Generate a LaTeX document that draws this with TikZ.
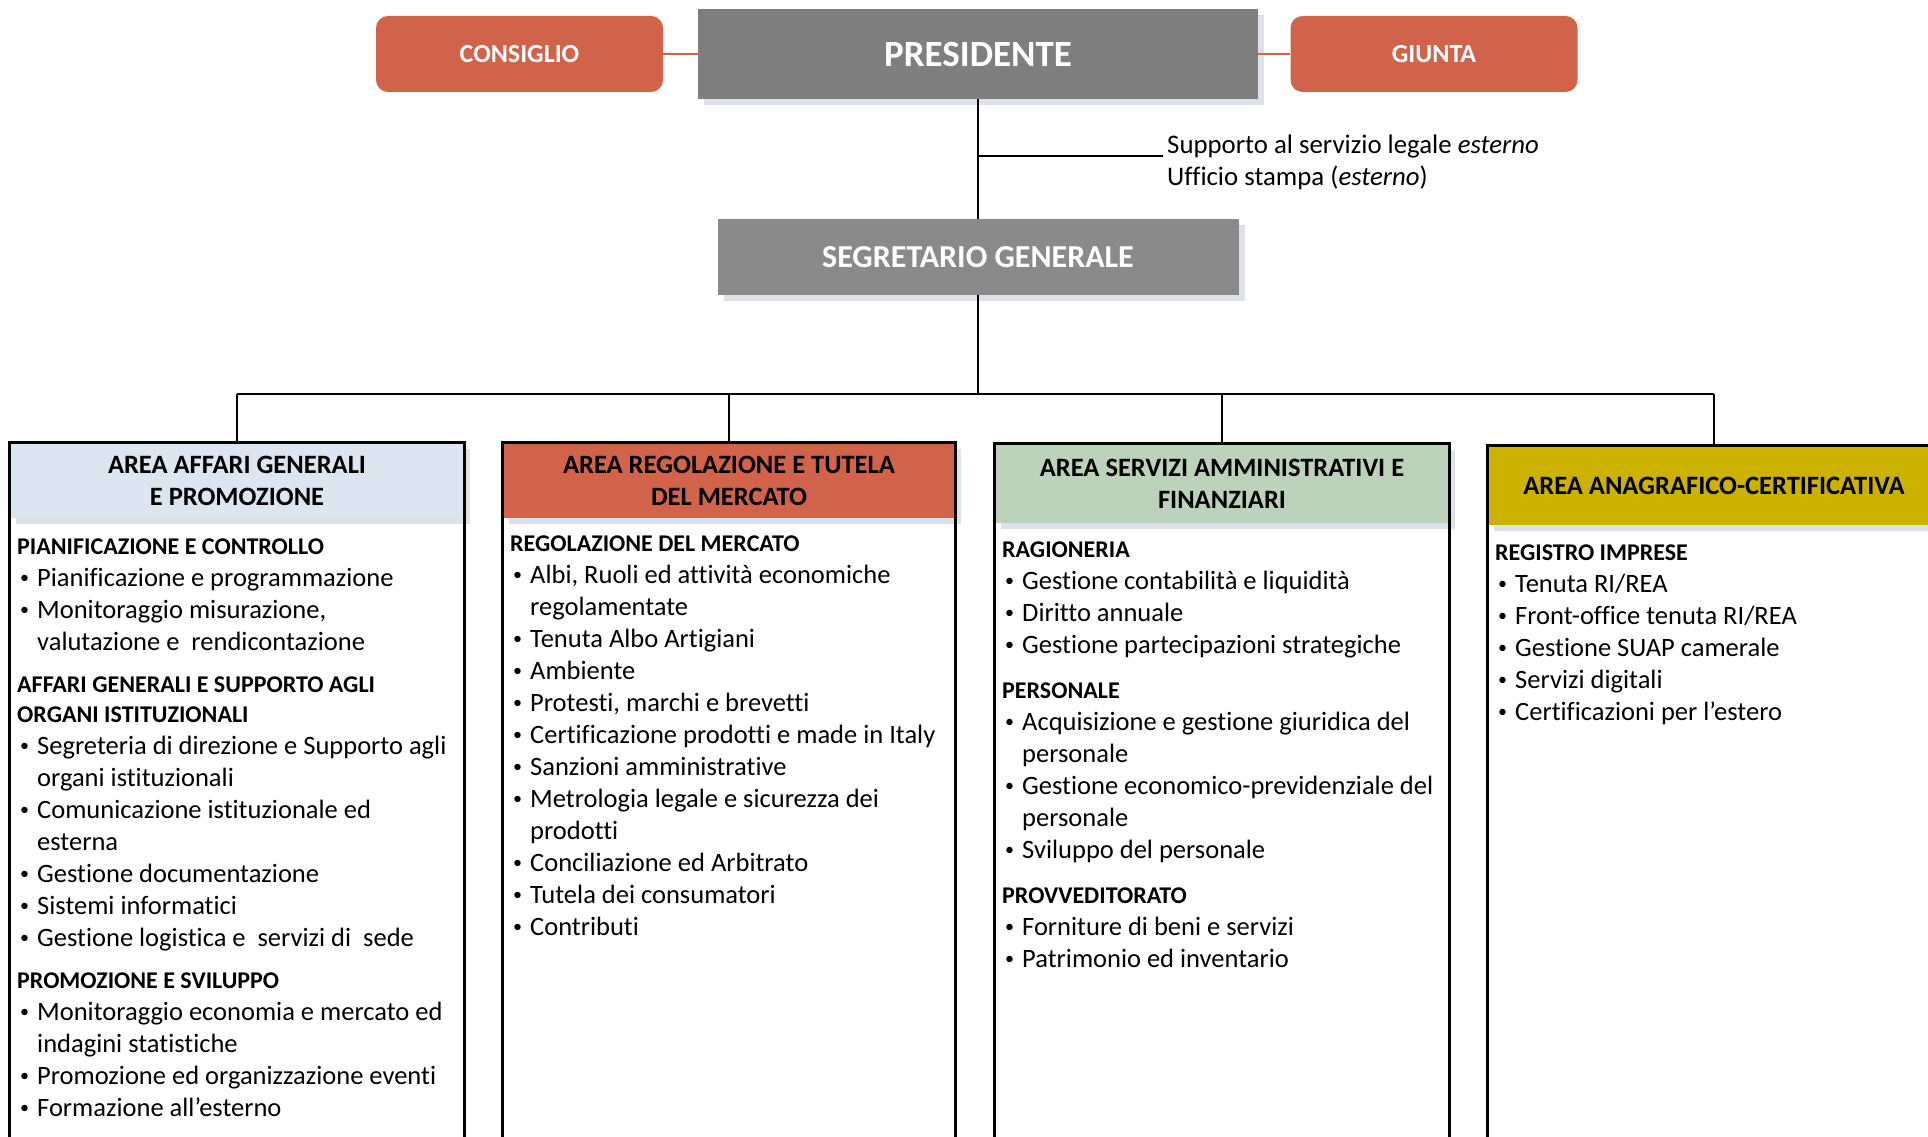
\documentclass[tikz,border=0pt]{standalone}
\usepackage{fontspec}
\setmainfont{Carlito}[Ligatures={NoCommon}]
\usetikzlibrary{shadows}
\definecolor{redbox}{HTML}{D1634A}
\definecolor{presgray}{HTML}{7F7F7F}
\definecolor{seggray}{HTML}{8A8A8A}
\definecolor{shadowgray}{HTML}{DDE2E8}
\definecolor{hdblue}{HTML}{DCE6F1}
\definecolor{hdgreen}{HTML}{BCD2BA}
\definecolor{hdyellow}{HTML}{CBB200}
\newcommand\hd[1]{\par{\fontsize{24}{29.5}\selectfont\bfseries #1\par}}
\newcommand\hdsp[2][13pt]{\par\vspace{#1}\hd{#2}}
\newcommand\mybul{\raisebox{3pt}{\scalebox{0.68}{\textbullet}}}
\newcommand\itm[1]{\par\fontsize{26.5}{32}\selectfont\hangindent=20pt\hangafter=1\noindent\makebox[20pt][l]{\hspace{3pt}\mybul}#1\par}
\tikzset{
  topbox/.style={fill=redbox, rounded corners=12pt, text=white, inner sep=0,
    font=\fontsize{26}{31}\selectfont\bfseries, minimum width=287pt, minimum height=76pt},
  mainbox/.style={text=white, inner sep=0, font=\bfseries,
    drop shadow={shadow xshift=6pt, shadow yshift=-6pt, fill=shadowgray, opacity=1}},
  hdr/.style={inner sep=0, align=center, font=\fontsize{26.5}{32}\selectfont\bfseries,
    drop shadow={shadow xshift=6pt, shadow yshift=-6pt, fill=shadowgray, opacity=1}},
  link/.style={draw=black, line width=2pt},
  redlink/.style={draw=redbox, line width=2.5pt},
  frame/.style={draw=black, line width=2.8pt},
  content/.style={anchor=base west, inner sep=0},
}
\begin{document}
\begin{tikzpicture}[x=1pt, y=-1pt]
\useasboundingbox[fill=white] (0,0) rectangle (1928,1137);

% top level
\node[topbox] (cons) at (519.5,54) {CONSIGLIO};
\node[topbox] (giunta) at (1434,54) {GIUNTA};
\node[mainbox, fill=presgray, minimum width=560pt, minimum height=90pt,
      font=\fontsize{37}{40}\selectfont\bfseries] (pres) at (978,54) {PRESIDENTE};
\draw[redlink] (cons.east) -- (pres.west);
\draw[redlink] (pres.east) -- (giunta.west);

\node[mainbox, fill=seggray, minimum width=521pt, minimum height=76pt,
      font=\fontsize{32}{36}\selectfont\bfseries] (seg) at (978,257) {SEGRETARIO GENERALE};
\draw[link] (pres.south) -- (seg.north);

\node[anchor=west, align=left, inner xsep=4pt, inner ysep=0,
      font=\fontsize{26.8}{32}\selectfont] (sup) at (1163,162)
      {Supporto al servizio legale \textit{esterno}\\Ufficio stampa (\textit{esterno})};
\coordinate (sb) at (978,156);
\draw[link] (sb) -- (sup.west |- sb);

% headers
\node[hdr, fill=hdblue, minimum width=454pt, minimum height=75pt] (h1) at (237,480.5)
  {AREA AFFARI GENERALI\\E PROMOZIONE};
\node[hdr, fill=redbox, minimum width=452pt, minimum height=75pt] (h2) at (729,480.5)
  {AREA REGOLAZIONE E TUTELA\\DEL MERCATO};
\node[hdr, fill=hdgreen, minimum width=454pt, minimum height=79pt] (h3) at (1222,483.5)
  {AREA SERVIZI AMMINISTRATIVI E\\FINANZIARI};
\node[hdr, fill=hdyellow, minimum width=452pt, minimum height=79pt] (h4) at (1714,485.5)
  {AREA ANAGRAFICO-CERTIFICATIVA};

% bus
\coordinate (bus) at (978,394);
\draw[link] (seg.south) -- (bus);
\draw[link] (h1.north |- bus) -- (h4.north |- bus);
\foreach \i in {1,2,3,4} { \draw[link] (h\i.north |- bus) -- (h\i.north); }

% frames
\draw[frame] (h1.south west |- 0,1150) -- (h1.north west) -- (h1.north east) -- (h1.north east |- 0,1150);
\draw[frame] (h2.south west |- 0,1150) -- (h2.north west) -- (h2.north east) -- (h2.north east |- 0,1150);
\draw[frame] (h3.south west |- 0,1150) -- (h3.north west) -- (h3.north east) -- (h3.north east |- 0,1150);
\draw[frame] (h4.south west |- 0,1150) -- (h4.north west) -- (h4.north east) -- (h4.north east |- 0,1150);

% contents
\node[content] (c1) at (17,554) {\parbox[t]{445pt}{\raggedright
\hd{PIANIFICAZIONE E CONTROLLO}
\itm{Pianificazione e programmazione}
\itm{Monitoraggio misurazione,\newline valutazione e\ \ rendicontazione}
\hdsp{AFFARI GENERALI E SUPPORTO AGLI\newline ORGANI ISTITUZIONALI}
\itm{Segreteria di direzione e Supporto agli\newline organi istituzionali}
\itm{Comunicazione istituzionale ed\newline esterna}
\itm{Gestione documentazione}
\itm{Sistemi informatici}
\itm{Gestione logistica e\ \ servizi di\ \ sede}
\hdsp{PROMOZIONE E SVILUPPO}
\itm{Monitoraggio economia e mercato ed\newline indagini statistiche}
\itm{Promozione ed organizzazione eventi}
\itm{Formazione all’esterno}}};

\node[content] (c2) at (510,551) {\parbox[t]{443pt}{\raggedright
\hd{REGOLAZIONE DEL MERCATO}
\itm{Albi, Ruoli ed attività economiche\newline regolamentate}
\itm{Tenuta Albo Artigiani}
\itm{Ambiente}
\itm{Protesti, marchi e brevetti}
\itm{Certificazione prodotti e made in Italy}
\itm{Sanzioni amministrative}
\itm{Metrologia legale e sicurezza dei\newline prodotti}
\itm{Conciliazione ed Arbitrato}
\itm{Tutela dei consumatori}
\itm{Contributi}}};

\node[content] (c3) at (1002,557) {\parbox[t]{445pt}{\raggedright
\hd{RAGIONERIA}
\itm{Gestione contabilità e liquidità}
\itm{Diritto annuale}
\itm{Gestione partecipazioni strategiche}
\hdsp[15.5pt]{PERSONALE}
\itm{Acquisizione e gestione giuridica del\newline personale}
\itm{Gestione economico-previdenziale del\newline personale}
\itm{Sviluppo del personale}
\hdsp[16pt]{PROVVEDITORATO}
\itm{Forniture di beni e servizi}
\itm{Patrimonio ed inventario}}};

\node[content] (c4) at (1495,560) {\parbox[t]{420pt}{\raggedright
\hd{REGISTRO IMPRESE}
\itm{Tenuta RI/REA}
\itm{Front-office tenuta RI/REA}
\itm{Gestione SUAP camerale}
\itm{Servizi digitali}
\itm{Certificazioni per l’estero}}};
\end{tikzpicture}
\end{document}
